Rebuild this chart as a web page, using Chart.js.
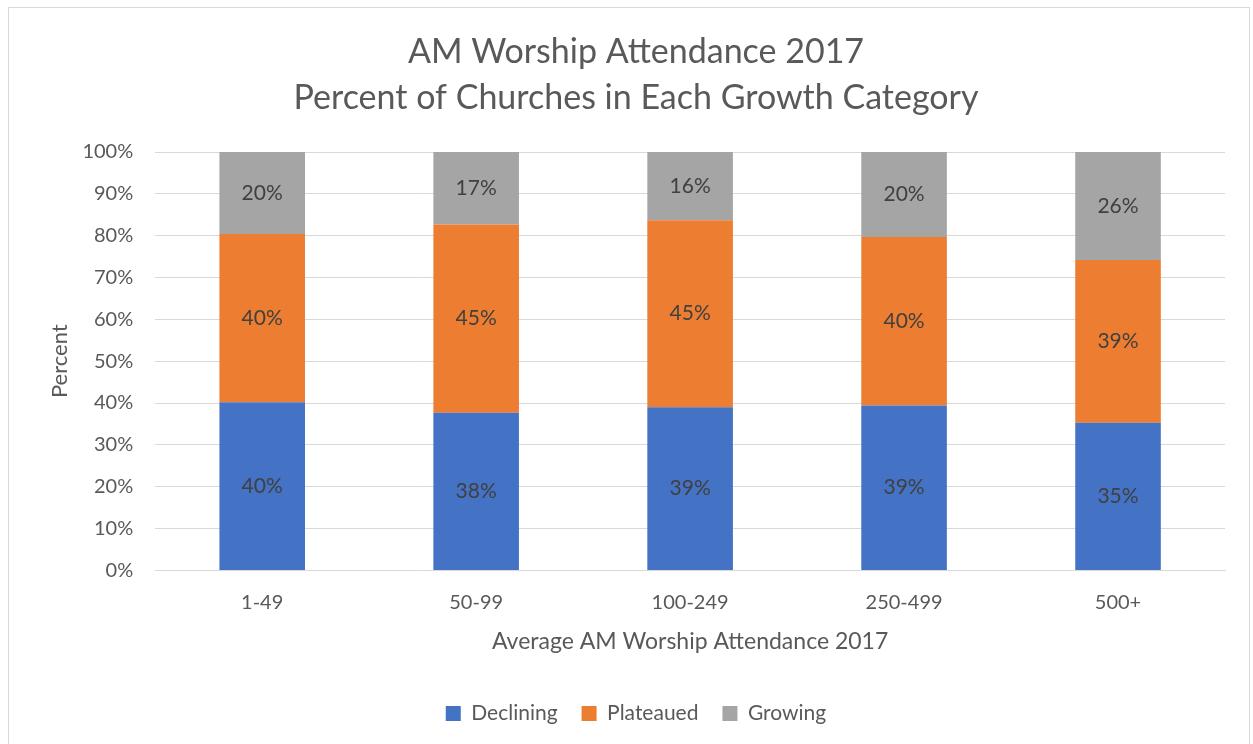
<!DOCTYPE html>
<html>
<head>
<meta charset="utf-8">
<script src="https://cdn.jsdelivr.net/npm/chart.js@4"></script>
<style>
  html, body { margin: 0; padding: 0; background: #fff; }
  #frame { position: absolute; left: 8px; top: 7px; width: 1242px; height: 760px; border: 1px solid #d9d9d9; box-sizing: border-box; }
  #wrap { position: absolute; left: 0; top: 0; width: 1253px; height: 744px; }
</style>
</head>
<body>
<div id="frame"></div>
<div id="wrap"><canvas id="myChart" width="1253" height="744"></canvas></div>
<script>
var categories = ["1-49", "50-99", "100-249", "250-499", "500+"];
var declining = [40.2, 37.7, 39.0, 39.4, 35.3];
var plateaued = [40.2, 45.0, 44.7, 40.3, 38.9];
var growing = [19.6, 17.3, 16.3, 20.3, 25.8];
var yTicks = [0, 10, 20, 30, 40, 50, 60, 70, 80, 90, 100];

var FONT = "Lato, 'Open Sans', sans-serif";
var TEXT = "#595959";

// draws the rounded value in the middle of every bar segment
var segmentLabels = {
    id: "segmentLabels",
    afterDatasetsDraw: function(chart) {
        var ctx = chart.ctx;
        ctx.save();
        ctx.font = "21px " + FONT;
        ctx.fillStyle = "#404040";
        ctx.textAlign = "center";
        ctx.textBaseline = "middle";
        chart.data.datasets.forEach(function(ds, i) {
            var meta = chart.getDatasetMeta(i);
            meta.data.forEach(function(bar, j) {
                var p = bar.getProps(["x", "y", "base"], true);
                ctx.fillText(Math.round(ds.data[j]) + "%", p.x, (p.y + p.base) / 2);
            });
        });
        ctx.restore();
    }
};

var ctx = document.getElementById('myChart').getContext('2d');
var chart = new Chart(ctx, {
    type: 'bar',
    data: {
        labels: categories,
        datasets: [
            { label: "Declining", backgroundColor: "#4472c4", data: declining },
            { label: "Plateaued", backgroundColor: "#ed7d31", data: plateaued },
            { label: "Growing", backgroundColor: "#a5a5a5", data: growing }
        ]
    },
    options: {
        responsive: false,
        animation: false,
        barPercentage: 0.8,
        categoryPercentage: 0.5,
        layout: { padding: { left: 47, right: 28, top: 29, bottom: 10 } },
        plugins: {
            title: {
                display: true,
                text: ["AM Worship Attendance 2017", "Percent of Churches in Each Growth Category"],
                color: TEXT,
                font: { family: FONT, size: 34, weight: "normal", lineHeight: 1.353 },
                padding: { top: 0, bottom: 31 }
            },
            legend: {
                position: "bottom",
                labels: {
                    color: TEXT,
                    font: { family: FONT, size: 21 },
                    boxWidth: 15,
                    boxHeight: 15,
                    padding: 24
                }
            },
            tooltip: { enabled: false }
        },
        scales: {
            x: {
                stacked: true,
                grid: { display: false },
                border: { color: "#d9d9d9" },
                ticks: { color: TEXT, font: { family: FONT, size: 20 }, padding: 12 },
                title: {
                    display: true,
                    text: "Average AM Worship Attendance 2017",
                    color: TEXT,
                    font: { family: FONT, size: 23 },
                    padding: { top: 1, bottom: 24 }
                }
            },
            y: {
                stacked: true,
                min: 0,
                max: 100,
                afterBuildTicks: function(axis) {
                    axis.ticks = yTicks.map(function(v) { return { value: v }; });
                },
                grid: { color: "#d9d9d9", drawTicks: false },
                border: { display: false },
                ticks: {
                    color: TEXT,
                    font: { family: FONT, size: 20 },
                    padding: 22,
                    callback: function(v) { return v + "%"; }
                },
                title: {
                    display: true,
                    text: "Percent",
                    color: TEXT,
                    font: { family: FONT, size: 22 },
                    padding: { top: 0, bottom: -13 }
                }
            }
        }
    },
    plugins: [segmentLabels]
});
</script>
</body>
</html>
